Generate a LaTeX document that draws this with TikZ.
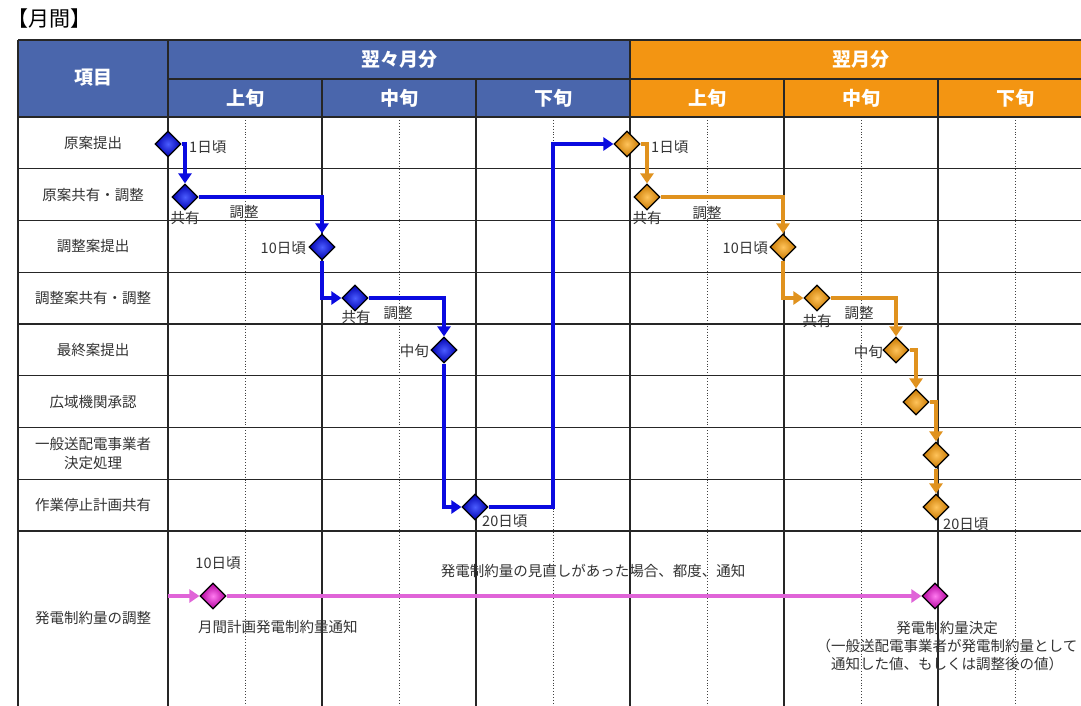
\documentclass[tikz,border=0pt]{standalone}
\usepackage{fontspec}
\setmainfont{Noto Sans CJK JP}
\usetikzlibrary{shapes.geometric,arrows.meta}
\definecolor{hdrblue}{HTML}{4A66AC}
\definecolor{hdrorange}{HTML}{F39512}
\definecolor{lnblue}{HTML}{0A0AE0}
\definecolor{lnorange}{HTML}{E0921E}
\definecolor{lnmag}{HTML}{E064D8}
\definecolor{txt}{HTML}{333333}
\definecolor{HTML4A5CFF}{HTML}{4A5CFF}
\definecolor{HTML0000B0}{HTML}{0000B0}
\definecolor{HTMLFFC35A}{HTML}{FFC35A}
\definecolor{HTMLC87800}{HTML}{C87800}
\definecolor{HTMLFF7AF0}{HTML}{FF7AF0}
\definecolor{HTMLB0009A}{HTML}{B0009A}
\begin{document}
\begin{tikzpicture}[x=1pt,y=-1pt,
  grid/.style={draw=black!85, line width=1.3pt},
  dotl/.style={draw=black!75, dotted, line width=0.9pt},
  hdr/.style={font=\fontsize{19}{21}\selectfont\bfseries, text=white, inner sep=0pt},
  rowlbl/.style={font=\fontsize{14.5}{19}\selectfont, text=txt, inner sep=0pt, align=center},
  lbl/.style={font=\fontsize{14.5}{18}\selectfont, text=txt, inner sep=0pt},
  dia/.style={diamond, draw=black, line width=1.2pt, minimum width=26pt, minimum height=26pt, inner sep=0pt},
  bdia/.style={dia, inner color=HTML4A5CFF, outer color=HTML0000B0},
  odia/.style={dia, inner color=HTMLFFC35A, outer color=HTMLC87800},
  mdia/.style={dia, inner color=HTMLFF7AF0, outer color=HTMLB0009A},
  bl/.style={draw=lnblue, line width=4pt, -{Triangle[length=10pt,width=13pt]}},
  ol/.style={draw=lnorange, line width=4pt, -{Triangle[length=10pt,width=13pt]}},
  ml/.style={draw=lnmag, line width=4pt, -{Triangle[length=10pt,width=13pt]}},
]
\useasboundingbox (0,0) rectangle (1081,705);
\clip (0,0) rectangle (1081,705);
\fill[white] (0,0) rectangle (1081,705);

\node[anchor=west, font=\fontsize{21}{23}\selectfont, text=black, inner sep=0pt] (title) at (7,19) {【月間】};

% header fills
\fill[hdrblue] (18,40) rectangle (630,117);
\fill[hdrorange] (630,40) rectangle (1100,117);

% dotted mid lines
\foreach \x in {245,399,553,707,861,1015} \draw[dotl] (\x,117) -- (\x,710);

% grid
\draw[grid] (18,40) -- (1100,40);
\draw[grid] (168,79) -- (1100,79);
\foreach \y in {117,168.75,220.5,272.25,324,375.75,427.5,479.25,531}
  \draw[grid] (18,\y) -- (1100,\y);
\draw[grid] (18,40) -- (18,710);
\foreach \x in {168,630} \draw[grid] (\x,40) -- (\x,710);
\foreach \x in {322,476,784,938} \draw[grid] (\x,79) -- (\x,710);

% header text
\node[hdr] (h0) at (93,78) {項目};
\node[hdr] (h1) at (399,59.5) {翌々月分};
\node[hdr] (h2) at (861,59.5) {翌月分};
\node[hdr] (s1) at (245,98) {上旬};
\node[hdr] (s2) at (399,98) {中旬};
\node[hdr] (s3) at (553,98) {下旬};
\node[hdr] (s4) at (707,98) {上旬};
\node[hdr] (s5) at (861,98) {中旬};
\node[hdr] (s6) at (1015,98) {下旬};

% row labels
\node[rowlbl] (r1) at (93,143) {原案提出};
\node[rowlbl] (r2) at (93,194.6) {原案共有・調整};
\node[rowlbl] (r3) at (93,246.4) {調整案提出};
\node[rowlbl] (r4) at (93,298.1) {調整案共有・調整};
\node[rowlbl] (r5) at (93,349.9) {最終案提出};
\node[rowlbl] (r6) at (93,401.6) {広域機関承認};
\node[rowlbl] (r7) at (93,454) {一般送配電事業者\\決定処理};
\node[rowlbl] (r8) at (93,505.1) {作業停止計画共有};
\node[rowlbl] (r9) at (93,618) {発電制約量の調整};

% blue diamonds
\node[bdia] (b1) at (168,144) {};
\node[bdia] (b2) at (185,197) {};
\node[bdia] (b3) at (322,247) {};
\node[bdia] (b4) at (355,298) {};
\node[bdia] (b5) at (444,350) {};
\node[bdia] (b6) at (475,507) {};
% orange diamonds
\node[odia] (o1) at (627,144) {};
\node[odia] (o2) at (647,197) {};
\node[odia] (o3) at (783,247) {};
\node[odia] (o4) at (817,298) {};
\node[odia] (o5) at (896,350) {};
\node[odia] (o6) at (916,402) {};
\node[odia] (o7) at (936,455) {};
\node[odia] (o8) at (936,507) {};
% magenta diamonds
\node[mdia] (m1) at (213,596) {};
\node[mdia] (m2) at (935,596) {};

\coordinate (turn) at (553,507);
\coordinate (mstart) at (168,596);

% blue connectors
\draw[bl] (b1.east) -| (b2.north);
\draw[bl] (b2.east) -| (b3.north);
\draw[bl] (b3.south) |- (b4.west);
\draw[bl] (b4.east) -| (b5.north);
\draw[bl] (b5.south) |- (b6.west);
\draw[bl] (b6.east) -- (turn) |- (o1.west);
% orange connectors
\draw[ol] (o1.east) -| (o2.north);
\draw[ol] (o2.east) -| (o3.north);
\draw[ol] (o3.south) |- (o4.west);
\draw[ol] (o4.east) -| (o5.north);
\draw[ol] (o5.east) -| (o6.north);
\draw[ol] (o6.east) -| (o7.north);
\draw[ol] (o7.south) -- (o8.north);
% magenta connectors
\draw[ml] (mstart) -- (m1.west);
\draw[ml] (m1.east) -- (m2.west);

% blue labels
\node[lbl, anchor=west] (lb1) at (189,147) {1日頃};
\node[lbl] (lb2) at (185,218) {共有};
\node[lbl] (lb3) at (244,212) {調整};
\node[lbl, anchor=east] (lb4) at (306,248) {10日頃};
\node[lbl] (lb5) at (356,317) {共有};
\node[lbl] (lb6) at (398,313) {調整};
\node[lbl, anchor=east] (lb7) at (429,351) {中旬};
\node[lbl, anchor=west] (lb8) at (482,521) {20日頃};
% orange labels
\node[lbl, anchor=west] (lo1) at (651,147) {1日頃};
\node[lbl] (lo2) at (647,218) {共有};
\node[lbl] (lo3) at (707,213) {調整};
\node[lbl, anchor=east] (lo4) at (768,248) {10日頃};
\node[lbl] (lo5) at (817,321) {共有};
\node[lbl] (lo6) at (859,313) {調整};
\node[lbl, anchor=east] (lo7) at (883,352) {中旬};
\node[lbl, anchor=west] (lo8) at (943,524) {20日頃};
% magenta labels
\node[lbl] (lm1) at (218,563) {10日頃};
\node[lbl, anchor=west] (lm2) at (198,627) {月間計画発電制約量通知};
\node[lbl] (lm3) at (593,571) {発電制約量の見直しがあった場合、都度、通知};
\node[lbl, align=center, font=\fontsize{14.5}{18}\selectfont] (lm4) at (947,646) {発電制約量決定\\（一般送配電事業者が発電制約量として\\通知した値、もしくは調整後の値）};
\end{tikzpicture}
\end{document}
